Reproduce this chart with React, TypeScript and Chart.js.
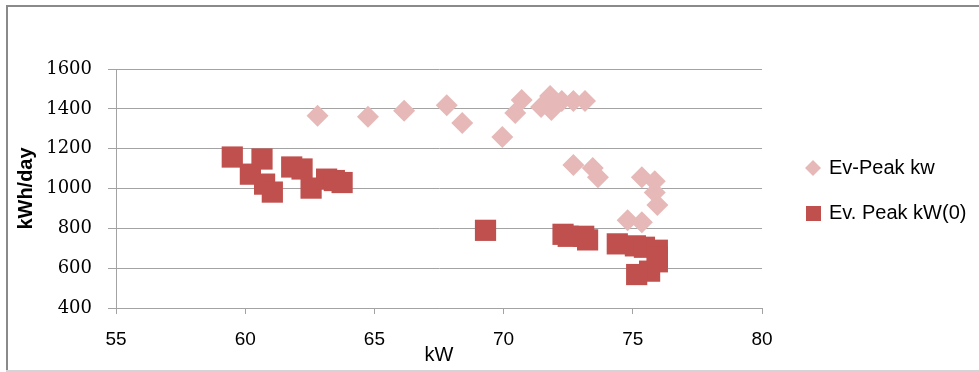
import React, { useEffect, useRef } from "react";
import { Chart, registerables } from "chart.js";

Chart.register(...registerables);

// Ev-Peak kw (light diamonds)
const peakKwX = [62.8, 64.75, 66.15, 67.8, 68.4, 69.95, 70.45, 70.7, 71.45, 71.8, 71.85, 72.25, 72.7, 73.15, 72.7, 73.45, 73.65, 75.35, 75.85, 75.85, 75.95, 74.8, 75.35];
const peakKwY = [1365, 1360, 1390, 1418, 1329, 1258, 1379, 1444, 1409, 1464, 1394, 1439, 1439, 1439, 1118, 1103, 1057, 1057, 1037, 980, 917, 841, 831];

// Ev. Peak kW(0) (dark squares)
const peakKw0X = [59.5, 60.65, 60.2, 60.75, 61.05, 61.8, 62.2, 62.55, 63.15, 63.45, 63.75, 69.3, 72.3, 72.5, 73.1, 73.25, 74.4, 75.1, 75.45, 75.95, 75.95, 75.95, 75.65, 75.15];
const peakKw0Y = [1158, 1148, 1072, 1022, 982, 1108, 1098, 1002, 1047, 1040, 1030, 790, 770, 760, 760, 742, 722, 712, 705, 690, 655, 632, 585, 568];

const seriesNames = ["Ev-Peak kw", "Ev. Peak kW(0)"];
const xTicks = [55, 60, 65, 70, 75, 80];
const yTicks = [400, 600, 800, 1000, 1200, 1400, 1600];

const PINK = "#e6b9b8";
const RED = "#c0504d";
const GRID = "#a3a3a3";
const SANS = "'Liberation Sans', Arial, sans-serif";

function markerCanvas(kind: "diamond" | "square", size: number, color: string) {
  const c = document.createElement("canvas");
  c.width = size;
  c.height = size;
  const g = c.getContext("2d")!;
  g.fillStyle = color;
  if (kind === "square") {
    g.fillRect(0, 0, size, size);
  } else {
    const h = size / 2;
    g.beginPath();
    g.moveTo(h, 0);
    g.lineTo(size, h);
    g.lineTo(h, size);
    g.lineTo(0, h);
    g.closePath();
    g.fill();
  }
  return c;
}

// Fixed legend column width, and a small offset of the legend items to the right
const legendBox = {
  id: "legendBox",
  beforeUpdate(chart: any) {
    const lg = chart.legend;
    if (lg && !lg.__fixed) {
      lg.__fixed = true;
      const fit = lg.fit;
      lg.fit = function (this: any) {
        fit.call(this);
        this.width = 217;
      };
    }
  },
  afterLayout(chart: any) {
    const lg = chart.legend;
    if (lg) {
      lg.left += 20;
      lg.right += 20;
      lg.top += 2;
      lg.bottom += 2;
    }
  },
};

export default function App() {
  const ref = useRef<HTMLCanvasElement | null>(null);

  useEffect(() => {
    if (!ref.current) return;
    const legendIcons = [markerCanvas("diamond", 16, PINK), markerCanvas("square", 15, RED)];

    const chart = new Chart(ref.current, {
      type: "scatter",
      data: {
        datasets: [
          {
            label: seriesNames[0],
            data: peakKwX.map((x, i) => ({ x, y: peakKwY[i] })),
            pointStyle: "rectRot",
            pointRadius: 11,
            pointHoverRadius: 11,
            backgroundColor: PINK,
            borderColor: PINK,
            borderWidth: 0,
          },
          {
            label: seriesNames[1],
            data: peakKw0X.map((x, i) => ({ x, y: peakKw0Y[i] })),
            pointStyle: "rect",
            pointRadius: 15,
            pointHoverRadius: 15,
            backgroundColor: RED,
            borderColor: RED,
            borderWidth: 0,
          },
        ],
      },
      options: {
        animation: false,
        responsive: false,
        maintainAspectRatio: false,
        layout: { padding: { top: 69, left: 0, right: 0, bottom: 0 } },
        scales: {
          x: {
            type: "linear",
            min: xTicks[0],
            max: xTicks[xTicks.length - 1],
            afterBuildTicks: (s: any) => {
              s.ticks = xTicks.map((v) => ({ value: v }));
            },
            afterFit: (s: any) => {
              s.height = 64;
            },
            grid: {
              drawOnChartArea: false,
              drawTicks: true,
              tickLength: 6,
              color: GRID,
            },
            border: { display: true, color: GRID, width: 1 },
            ticks: {
              color: "#000",
              padding: 14,
              maxRotation: 0,
              font: { family: SANS, size: 19 },
              callback: (v: any) => String(v),
            },
            title: {
              display: true,
              text: "kW",
              color: "#000",
              font: { family: SANS, size: 20 },
              padding: { top: 0, bottom: 5 },
            },
          },
          y: {
            type: "linear",
            min: yTicks[0],
            max: yTicks[yTicks.length - 1],
            afterBuildTicks: (s: any) => {
              s.ticks = yTicks.map((v) => ({ value: v }));
            },
            afterFit: (s: any) => {
              s.width = 116;
            },
            grid: {
              drawOnChartArea: true,
              drawTicks: true,
              tickLength: 8,
              color: GRID,
            },
            border: { display: true, color: GRID, width: 1 },
            ticks: {
              color: "#000",
              padding: 16,
              font: { family: "'DejaVu Serif', serif", size: 18 },
              callback: (v: any) => String(v),
            },
            title: {
              display: true,
              text: "kWh/day",
              color: "#000",
              font: { family: SANS, size: 20, weight: "bold" },
              padding: { top: 14, bottom: 0 },
            },
          },
        },
        plugins: {
          tooltip: { enabled: false },
          legend: {
            display: true,
            position: "right",
            fullSize: false,
            labels: {
              usePointStyle: true,
              boxWidth: 12,
              boxHeight: 12,
              padding: 25,
              color: "#000",
              font: { family: SANS, size: 20 },
              generateLabels: (c: any) =>
                c.data.datasets.map((d: any, i: number) => ({
                  text: d.label,
                  fillStyle: d.backgroundColor,
                  strokeStyle: d.borderColor,
                  lineWidth: 0,
                  pointStyle: legendIcons[i],
                  hidden: false,
                  datasetIndex: i,
                })),
            },
          },
        },
      },
      plugins: [legendBox],
    } as any);

    return () => chart.destroy();
  }, []);

  return (
    <div style={{ position: "absolute", left: 0, top: 0, width: 979, height: 372, background: "#fff", overflow: "hidden" }}>
      <canvas ref={ref} width={979} height={372} style={{ position: "absolute", left: 0, top: 0 }} />
      <div style={{ position: "absolute", left: 6, top: 5, width: 980, height: 0, borderTop: "2px solid #8a8a8a" }} />
      <div style={{ position: "absolute", left: 6, top: 5, width: 0, height: 380, borderLeft: "2px solid #8a8a8a" }} />
      <div style={{ position: "absolute", left: 6, top: 370, width: 980, height: 0, borderTop: "2px solid #d4d4d4" }} />
    </div>
  );
}
